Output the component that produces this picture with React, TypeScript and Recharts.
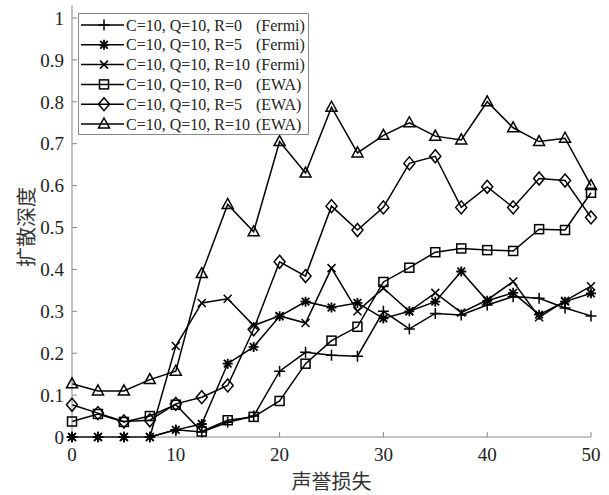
import React from "react";
import { LineChart, Line, XAxis, YAxis } from "recharts";

const xs = [0, 2.5, 5, 7.5, 10, 12.5, 15, 17.5, 20, 22.5, 25, 27.5, 30, 32.5, 35, 37.5, 40, 42.5, 45, 47.5, 50];

const fermiR0 = [0, 0, 0, 0, 0.017, 0.012, 0.035, 0.05, 0.157, 0.202, 0.195, 0.193, 0.3, 0.258, 0.295, 0.291, 0.315, 0.335, 0.331, 0.308, 0.289];
const fermiR5 = [0, 0, 0, 0, 0.017, 0.031, 0.175, 0.215, 0.288, 0.323, 0.309, 0.32, 0.283, 0.3, 0.323, 0.395, 0.325, 0.344, 0.292, 0.323, 0.343];
const fermiR10 = [0, 0, 0, 0, 0.217, 0.32, 0.33, 0.266, 0.289, 0.272, 0.403, 0.3, 0.355, 0.3, 0.344, 0.297, 0.327, 0.371, 0.286, 0.325, 0.36];
const ewaR0 = [0.037, 0.055, 0.036, 0.05, 0.077, 0.013, 0.04, 0.048, 0.086, 0.175, 0.23, 0.263, 0.37, 0.404, 0.441, 0.45, 0.446, 0.444, 0.496, 0.494, 0.583];
const ewaR5 = [0.077, 0.057, 0.037, 0.04, 0.079, 0.095, 0.123, 0.257, 0.418, 0.384, 0.551, 0.494, 0.548, 0.653, 0.67, 0.548, 0.597, 0.548, 0.617, 0.612, 0.524];
const ewaR10 = [0.127, 0.11, 0.11, 0.137, 0.157, 0.39, 0.555, 0.49, 0.705, 0.63, 0.787, 0.678, 0.72, 0.75, 0.718, 0.709, 0.8, 0.738, 0.705, 0.713, 0.6];

const seriesKeys = ["fermiR0", "fermiR5", "fermiR10", "ewaR0", "ewaR5", "ewaR10"];
const seriesLabels = ["C=10, Q=10, R=0", "C=10, Q=10, R=5", "C=10, Q=10, R=10", "C=10, Q=10, R=0", "C=10, Q=10, R=5", "C=10, Q=10, R=10"];
const seriesModels = ["(Fermi)", "(Fermi)", "(Fermi)", "(EWA)", "(EWA)", "(EWA)"];
const seriesShapes = ["plus", "star", "cross", "square", "diamond", "triangle"];

const xTicks = [0, 10, 20, 30, 40, 50];
const yTicks = [0, 0.1, 0.2, 0.3, 0.4, 0.5, 0.6, 0.7, 0.8, 0.9, 1];

const values = [fermiR0, fermiR5, fermiR10, ewaR0, ewaR5, ewaR10];
const rows = xs.map((x, i) => {
  const row: Record<string, number> = { x };
  seriesKeys.forEach((k, j) => (row[k] = values[j][i]));
  return row;
});

const SERIF = "'Liberation Serif', 'Times New Roman', serif";
const CJK = "'Noto Sans CJK SC', sans-serif";
const AXIS = "#888";

function Marker({ cx, cy, shape }: { cx: number; cy: number; shape: string }) {
  const s = { stroke: "#000", strokeWidth: 1.5, fill: "none" };
  if (shape === "plus")
    return <path d={`M${cx - 5.5},${cy}H${cx + 5.5}M${cx},${cy - 5.5}V${cy + 5.5}`} {...s} />;
  if (shape === "cross")
    return <path d={`M${cx - 4},${cy - 4}L${cx + 4},${cy + 4}M${cx - 4},${cy + 4}L${cx + 4},${cy - 4}`} {...s} />;
  if (shape === "star")
    return (
      <path
        d={`M${cx - 5},${cy}H${cx + 5}M${cx},${cy - 5}V${cy + 5}M${cx - 3.8},${cy - 3.8}L${cx + 3.8},${cy + 3.8}M${cx - 3.8},${cy + 3.8}L${cx + 3.8},${cy - 3.8}`}
        {...s}
        strokeWidth={1.8}
      />
    );
  if (shape === "square") return <rect x={cx - 4.5} y={cy - 4.5} width={9} height={9} {...s} />;
  if (shape === "diamond")
    return <path d={`M${cx},${cy - 6.5}L${cx + 5.5},${cy}L${cx},${cy + 6.5}L${cx - 5.5},${cy}Z`} {...s} />;
  return <path d={`M${cx},${cy - 6}L${cx + 5.5},${cy + 4}L${cx - 5.5},${cy + 4}Z`} {...s} />;
}

function LegendBox() {
  return (
    <svg style={{ position: "absolute", left: 0, top: 0, pointerEvents: "none" }} width={609} height={495}>
      <rect x={78.5} y={13.5} width={230} height={121} fill="#fff" stroke={AXIS} strokeWidth={1} />
      {seriesKeys.map((k, i) => {
        const y = 25 + i * 19.8;
        return (
          <g key={k}>
            <line x1={81} x2={124} y1={y} y2={y} stroke="#000" strokeWidth={1.5} />
            <Marker cx={104} cy={y} shape={seriesShapes[i]} />
            <text x={126} y={y + 5.5} fontSize={16} fontFamily={SERIF} fill="#222">
              {seriesLabels[i]}
            </text>
            <text x={256} y={y + 5.5} fontSize={16} fontFamily={SERIF} fill="#222">
              {seriesModels[i]}
            </text>
          </g>
        );
      })}
    </svg>
  );
}

function YLabel(props: any) {
  const vb = props.viewBox || { x: 0, y: 5, height: 432 };
  const cx = vb.x + 25;
  const cy = vb.y + vb.height / 2 + 6;
  return (
    <text
      x={cx}
      y={cy}
      transform={`rotate(-90, ${cx}, ${cy})`}
      textAnchor="middle"
      dominantBaseline="central"
      fontSize={20}
      fontFamily={CJK}
      fill="#333"
    >
      扩散深度
    </text>
  );
}

export default function App() {
  const tickStyle = { fill: "#222", fontSize: 19, fontFamily: SERIF };
  return (
    <div style={{ position: "absolute", left: 0, top: 0, width: 609, height: 495, background: "#fff", fontFamily: SERIF }}>
      <LineChart width={609} height={495} data={rows} margin={{ top: 5, right: 18, bottom: 0, left: 0 }} style={{ fontFamily: SERIF }}>
        <XAxis
          xAxisId="b"
          dataKey="x"
          type="number"
          domain={[0, 50]}
          ticks={xTicks}
          height={58}
          tickSize={-5}
          tickMargin={16}
          stroke={AXIS}
          tick={tickStyle}
          label={{ value: "声誉损失", position: "insideBottom", offset: 6, fill: "#333", fontSize: 20, fontFamily: CJK }}
        />
        <XAxis xAxisId="t" orientation="top" dataKey="x" type="number" domain={[0, 50]} ticks={xTicks} height={0} tick={false} tickSize={-5} stroke={AXIS} />
        <YAxis
          yAxisId="l"
          type="number"
          domain={[0, 1.031]}
          ticks={yTicks}
          width={72}
          tickSize={-5}
          tickMargin={13}
          stroke={AXIS}
          tick={tickStyle}
          label={{ content: (p: any) => <YLabel {...p} /> }}
        />
        <YAxis yAxisId="r" orientation="right" type="number" domain={[0, 1.031]} ticks={yTicks} width={0} tick={false} tickSize={-5} stroke={AXIS} />
        {seriesKeys.map((k, i) => (
          <Line
            key={k}
            xAxisId="b"
            yAxisId="l"
            dataKey={k}
            type="linear"
            stroke="#000"
            strokeWidth={1.5}
            isAnimationActive={false}
            dot={(p: any) => <Marker key={`${k}-${p.index}`} cx={p.cx} cy={p.cy} shape={seriesShapes[i]} />}
            activeDot={false}
          />
        ))}
      </LineChart>
      <LegendBox />
    </div>
  );
}
